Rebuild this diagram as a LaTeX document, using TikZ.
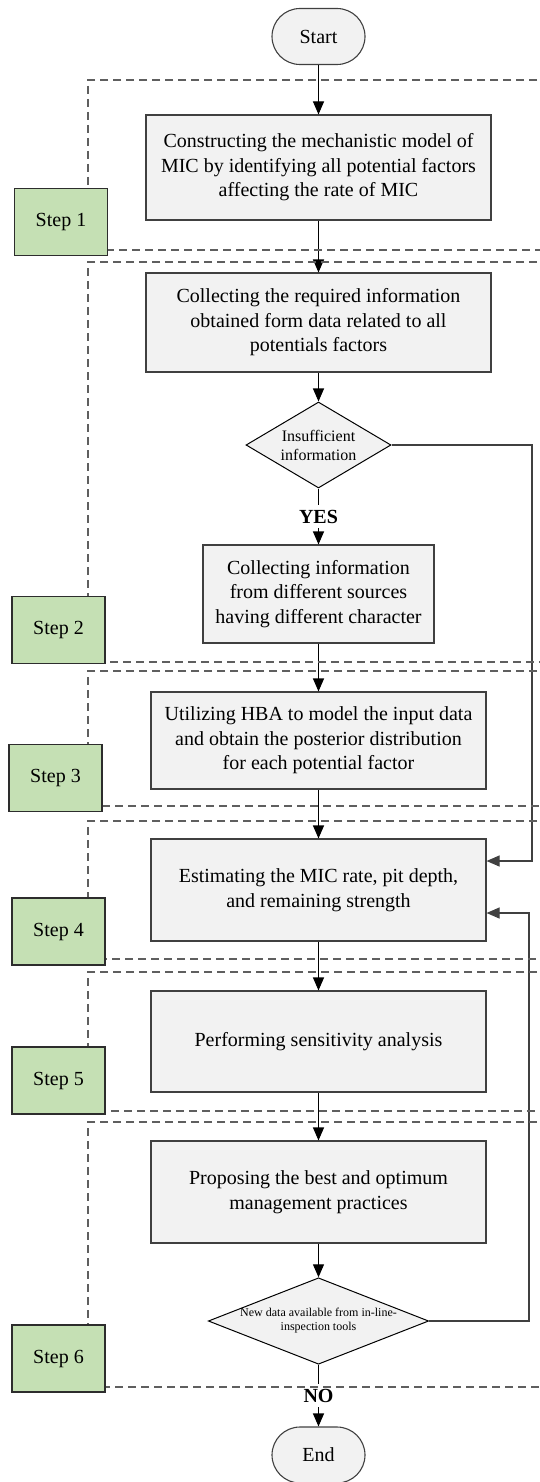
\documentclass[tikz,border=0pt]{standalone}
\usepackage{fontspec}
\setmainfont{Liberation Serif}
\usetikzlibrary{shapes.geometric,arrows.meta}
\definecolor{boxgray}{RGB}{242,242,242}
\definecolor{stepgreen}{RGB}{197,224,180}
\definecolor{edgegray}{RGB}{64,64,64}
\definecolor{dashgray}{RGB}{95,95,95}

\begin{document}
\begin{tikzpicture}[x=1pt,y=-1pt,
  procbox/.style={draw=edgegray,line width=1.1pt,fill=boxgray,align=center,inner sep=0pt,
    minimum width=335pt,minimum height=101pt,font=\fontsize{20}{24.5}\selectfont},
  termbox/.style={draw=edgegray,line width=1.1pt,fill=boxgray,rounded corners=28pt,inner sep=0pt,
    minimum width=93pt,minimum height=56pt,font=\fontsize{20}{24.5}\selectfont},
  decision/.style={diamond,draw=black,line width=1pt,fill=boxgray,align=center,inner sep=0pt},
  stepbox/.style={draw=edgegray!70!black,line width=1.2pt,fill=stepgreen,inner sep=0pt,
    minimum width=93pt,minimum height=67pt,font=\fontsize{20}{24.5}\selectfont},
  region/.style={draw=dashgray,line width=1.1pt,dash pattern=on 8pt off 5pt},
  flow/.style={draw=black,line width=1.1pt,-{Triangle[length=13pt,width=11pt]}},
  loopback/.style={draw=edgegray,line width=1.1pt,-{Triangle[length=13pt,width=11pt]}},
  answer/.style={fill=white,inner xsep=2pt,inner ysep=5pt,font=\fontsize{20}{24}\selectfont\bfseries}
]
\useasboundingbox (0,0) rectangle (540,1482);
\clip (0,0) rectangle (540,1482);

\node[termbox] (start) at (318.5,36.5) {Start};
\node[procbox,minimum width=345pt,minimum height=105pt] (construct) at (318.5,167.5)
  {Constructing the mechanistic model of\\MIC by identifying all potential factors\\affecting the rate of MIC};
\node[procbox,minimum width=345pt,minimum height=99pt] (collect) at (318.5,322.5)
  {Collecting the required information\\obtained form data related to all\\potentials factors};
\node[decision,aspect=1.69,minimum width=145pt,minimum height=86pt,font=\fontsize{16}{19}\selectfont]
  (insuff) at (318.5,445) {Insufficient\\information};
\node[procbox,minimum width=231pt,minimum height=98pt] (sources) at (318.5,594)
  {Collecting information\\from different sources\\having different character};
\node[procbox,minimum height=97pt] (hba) at (318.5,740.5)
  {Utilizing HBA to model the input data\\and obtain the posterior distribution\\for each potential factor};
\node[procbox,minimum height=102pt] (estim) at (318.5,890)
  {Estimating the MIC rate, pit depth,\\and remaining strength};
\node[procbox] (sens) at (318.5,1041.5) {Performing sensitivity analysis};
\node[procbox,minimum height=102pt] (propose) at (318.5,1192)
  {Proposing the best and optimum\\management practices};
\node[decision,aspect=2.55,minimum width=219pt,minimum height=86pt,font=\fontsize{12}{14}\selectfont]
  (newdata) at (318.5,1321) {New data available from in-line-\\inspection tools};
\node[termbox] (finish) at (318.5,1455) {End};

\draw[flow] (start) -- (construct);
\draw[flow] (construct) -- (collect);
\draw[flow] (collect) -- (insuff);
\draw[flow] (insuff) -- node[answer] (yes) {YES} (sources);
\draw[flow] (sources) -- (hba);
\draw[flow] (hba) -- (estim);
\draw[flow] (estim) -- (sens);
\draw[flow] (sens) -- (propose);
\draw[flow] (propose) -- (newdata);
\draw[flow] (newdata) -- node[answer] (no) {NO} (finish);

\coordinate (fbtop) at (532,861);
\coordinate (fbbot) at (529,913);
\draw[loopback] (insuff.east) -| (fbtop) -- (estim.east |- fbtop);
\draw[loopback] (newdata.east) -| (fbbot) -- (estim.east |- fbbot);

\foreach \t/\b in {80/250,262/662,671/806,821/959,972/1111,1122/1387}
  \draw[region] (550,\t) -| (88,\b) -- (550,\b);

\foreach \n/\x/\y in {1/61/222,2/58.5/630,3/55.5/778,4/58.5/931.5,5/58.5/1080.5,6/58.5/1358.5}
  \node[stepbox] (step\n) at (\x,\y) {Step \n};
\end{tikzpicture}
\end{document}
